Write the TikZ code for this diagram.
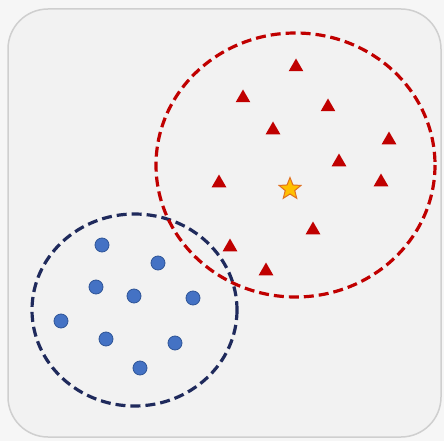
\documentclass[tikz,border=0pt]{standalone}
\usetikzlibrary{shapes.geometric}
\definecolor{bgout}{HTML}{F6F6F6}
\definecolor{bgin}{HTML}{F2F2F2}
\definecolor{frame}{HTML}{CFCFCF}
\definecolor{redc}{HTML}{C00000}
\definecolor{navy}{HTML}{1F2A5C}
\definecolor{dotfill}{HTML}{4472C4}
\definecolor{dotline}{HTML}{2F5597}
\definecolor{starfill}{HTML}{FFC000}
\definecolor{starline}{HTML}{E07020}
\tikzset{
  tri/.style={regular polygon, regular polygon sides=3, fill=redc, inner sep=0pt, minimum size=17pt},
  dot/.style={circle, fill=dotfill, draw=dotline, line width=0.8pt, inner sep=0pt, minimum size=14pt},
  centre/.style={star, star points=5, star point ratio=2.3, fill=starfill, draw=starline, line width=1pt, inner sep=0pt, minimum size=23pt},
  redring/.style={draw=redc, line width=3.2pt, dash pattern=on 10pt off 5pt},
  bluering/.style={draw=navy, line width=3.2pt, dash pattern=on 10pt off 5pt}
}
\begin{document}
\begin{tikzpicture}[x=1pt,y=-1pt]
\fill[bgout] (0,0) rectangle (444,441);
\useasboundingbox (0,0) rectangle (444,441);
\draw[frame, fill=bgin, line width=1.5pt, rounded corners=40pt] (8,9) rectangle (441,437);
% triangles
\foreach \n/\x/\y in {t1/296/67, t2/243/98, t3/328/107, t4/273/130, t5/389/140, t6/339/162, t7/219/183, t8/381/182, t9/313/230, t10/230/247, t11/266/271}
  \node[tri] (\n) at (\x,\y) {};
\node[centre] (st) at (290,189) {};
% dots
\foreach \n/\x/\y in {d1/102/245, d2/158/263, d3/96/287, d4/134/296, d5/193/298, d6/61/321, d7/106/339, d8/175/343, d9/140/368}
  \node[dot] (\n) at (\x,\y) {};
% rings
\draw[bluering] (134.5,310) ellipse [x radius=102.5, y radius=96];
\draw[redring] (295.5,165) ellipse [x radius=139.5, y radius=132];
\end{tikzpicture}
\end{document}
